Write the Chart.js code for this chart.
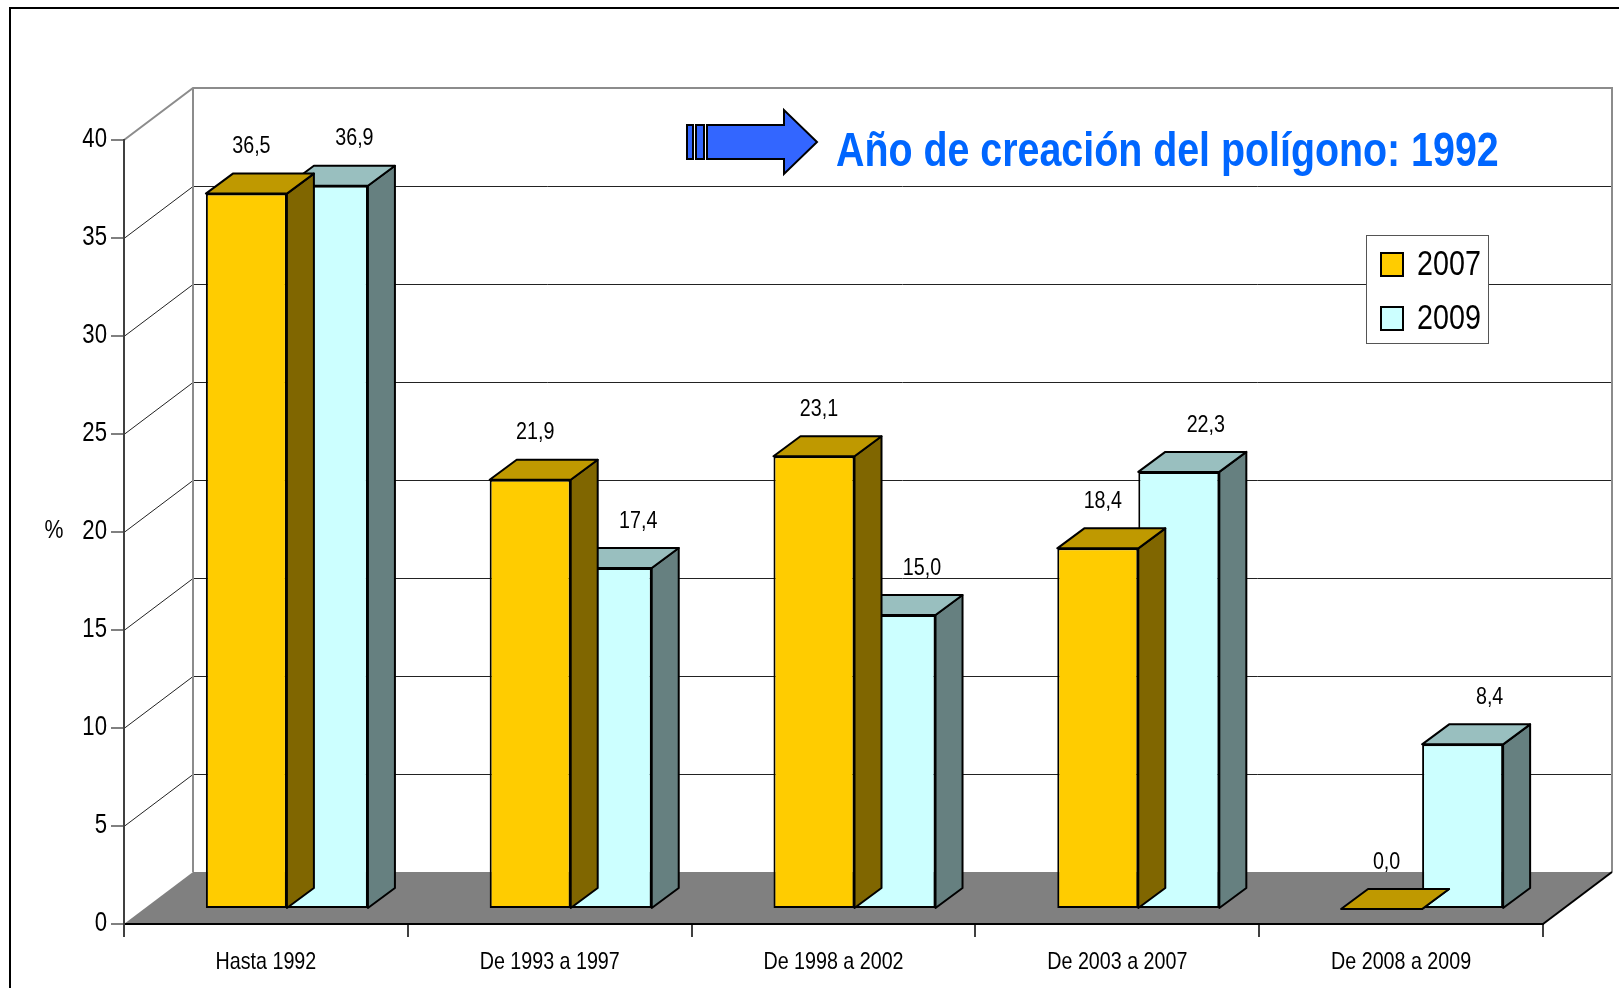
<!DOCTYPE html>
<html>
<head>
<meta charset="utf-8">
<script src="https://cdn.jsdelivr.net/npm/chart.js@4.4.1/dist/chart.umd.min.js"></script>
<style>
  html, body { margin: 0; padding: 0; background: #fff; }
  #wrap { width: 1619px; height: 988px; position: relative; }
</style>
</head>
<body>
<div id="wrap"><canvas id="chart"></canvas></div>
<script>
// datos
const categories = ['Hasta 1992', 'De 1993 a 1997', 'De 1998 a 2002', 'De 2003 a 2007', 'De 2008 a 2009'];
const values2007 = [36.5, 21.9, 23.1, 18.4, 0.0];
const values2009 = [36.9, 17.4, 15.0, 22.3, 8.4];
const seriesNames = ['2007', '2009'];
const yMin = 0, yMax = 40, yStep = 5;
const titleText = 'Año de creación del polígono: 1992';

// Arial Narrow no está: Liberation Sans comprimida horizontalmente
const FONT = '"Liberation Sans", Arial, sans-serif';
const NARROW_X = 0.82;
const fill = ['#ffcc00', '#ccffff'];
const topFill = ['#bf9900', '#99bfbf'];
const sideFill = ['#806600', '#668080'];

// geometría 3D (pseudo-perspectiva de Excel)
const WALL = { dx: 69, dy: 52 };   // profundidad del suelo / pared del fondo
const SHIFT = { dx: 21, dy: 15 };  // plano frontal de las barras
const DEPTH = { dx: 27, dy: 20 };  // grosor de cada barra
const labelDx = [5, 27];

const nativeFillText = CanvasRenderingContext2D.prototype.fillText;
function narrowText(ctx, text, x, y) {
  ctx.save();
  ctx.translate(x, y);
  ctx.scale(NARROW_X, 1);
  nativeFillText.call(ctx, text, 0, 0);
  ctx.restore();
}

// etiquetas de los ejes también estrechas
const origDrawLabels = Chart.Scale.prototype.drawLabels;
Chart.Scale.prototype.drawLabels = function (area) {
  const ctx = this.ctx;
  ctx.fillText = function (t, x, y) { narrowText(this, t, x, y); };
  try { origDrawLabels.call(this, area); } finally { delete ctx.fillText; }
};

function poly(ctx, pts, fillStyle, stroke, lw) {
  ctx.beginPath();
  ctx.moveTo(pts[0][0], pts[0][1]);
  for (let i = 1; i < pts.length; i++) ctx.lineTo(pts[i][0], pts[i][1]);
  ctx.closePath();
  if (fillStyle) { ctx.fillStyle = fillStyle; ctx.fill(); }
  if (stroke) { ctx.strokeStyle = stroke; ctx.lineWidth = lw || 1; ctx.stroke(); }
}

const frame3d = {
  id: 'frame3d',
  beforeDraw(chart) {
    const ctx = chart.ctx;
    const { left, right, top, bottom } = chart.chartArea;
    const y = chart.scales.y;
    ctx.save();
    // marco exterior
    ctx.strokeStyle = '#000';
    ctx.lineWidth = 2;
    ctx.strokeRect(10, 8, 1800, 1200);

    // suelo
    poly(ctx, [[left, bottom], [left + WALL.dx, bottom - WALL.dy],
      [right + WALL.dx, bottom - WALL.dy], [right, bottom]], '#808080');

    // líneas de división: pared lateral + fondo
    ctx.lineWidth = 1;
    ctx.strokeStyle = '#222';
    for (let v = yMin + yStep; v < yMax; v += yStep) {
      const yf = Math.round(y.getPixelForValue(v)) + 0.5;
      ctx.beginPath();
      ctx.moveTo(left, yf);
      ctx.lineTo(left + WALL.dx, yf - WALL.dy);
      ctx.lineTo(right + WALL.dx, yf - WALL.dy);
      ctx.stroke();
    }

    // bordes de las paredes
    ctx.strokeStyle = '#8c8c8c';
    ctx.lineWidth = 2;
    ctx.beginPath();
    ctx.moveTo(left, top);
    ctx.lineTo(left + WALL.dx, top - WALL.dy);
    ctx.lineTo(right + WALL.dx, top - WALL.dy);
    ctx.lineTo(right + WALL.dx, bottom - WALL.dy);
    ctx.moveTo(left + WALL.dx, top - WALL.dy);
    ctx.lineTo(left + WALL.dx, bottom - WALL.dy);
    ctx.stroke();

    // borde derecho del suelo
    ctx.strokeStyle = '#000';
    ctx.beginPath();
    ctx.moveTo(right, bottom);
    ctx.lineTo(right + WALL.dx, bottom - WALL.dy);
    ctx.stroke();
    ctx.restore();
  },
  beforeDatasetsDraw(chart) {
    chart.ctx.save();
    chart.ctx.translate(SHIFT.dx, -SHIFT.dy);
  },
  beforeDatasetDraw(chart, args) {
    const ctx = chart.ctx;
    const di = args.index;
    ctx.save();
    ctx.lineJoin = 'round';
    args.meta.data.forEach(el => {
      const p = el.getProps(['x', 'y', 'base', 'width'], true);
      const L = p.x - p.width / 2, R = p.x + p.width / 2;
      // cara lateral
      poly(ctx, [[R, p.y], [R + DEPTH.dx, p.y - DEPTH.dy],
        [R + DEPTH.dx, p.base - DEPTH.dy], [R, p.base]], sideFill[di], '#000', 2);
      // cara superior
      poly(ctx, [[L, p.y], [L + DEPTH.dx, p.y - DEPTH.dy],
        [R + DEPTH.dx, p.y - DEPTH.dy], [R, p.y]], topFill[di], '#000', 2);
    });
    ctx.restore();
  },
  afterDatasetsDraw(chart) {
    const ctx = chart.ctx;
    ctx.restore();
    ctx.save();

    // etiquetas de datos
    ctx.fillStyle = '#000';
    ctx.font = '24px ' + FONT;
    ctx.textAlign = 'center';
    ctx.textBaseline = 'middle';
    chart.data.datasets.forEach((ds, di) => {
      chart.getDatasetMeta(di).data.forEach((el, i) => {
        const txt = ds.data[i].toFixed(1).replace('.', ',');
        narrowText(ctx, txt, el.x + SHIFT.dx + labelDx[di], el.y - SHIFT.dy - 47);
      });
    });

    // símbolo del eje
    ctx.font = '26px ' + FONT;
    narrowText(ctx, '%', 54, 531);

    // flecha
    ctx.lineJoin = 'miter';
    poly(ctx, [[687, 125], [693, 125], [693, 159], [687, 159]], '#3366ff', '#000', 2);
    poly(ctx, [[696, 125], [704, 125], [704, 159], [696, 159]], '#3366ff', '#000', 2);
    poly(ctx, [[707, 125], [784, 125], [784, 110], [817, 142], [784, 174], [784, 159], [707, 159]],
      '#3366ff', '#000', 2);

    // título
    ctx.fillStyle = '#0066ff';
    ctx.font = 'bold 48px ' + FONT;
    ctx.textAlign = 'left';
    ctx.textBaseline = 'alphabetic';
    narrowText(ctx, titleText, 836, 166);

    // leyenda
    ctx.fillStyle = '#fff';
    ctx.fillRect(1366, 235, 122, 108);
    ctx.strokeStyle = '#555';
    ctx.lineWidth = 1;
    ctx.strokeRect(1366.5, 235.5, 122, 108);
    chart.data.datasets.forEach((ds, di) => {
      const yy = 253 + di * 54;
      ctx.fillStyle = ds.backgroundColor;
      ctx.fillRect(1381, yy, 22, 23);
      ctx.strokeStyle = '#000';
      ctx.lineWidth = 2;
      ctx.strokeRect(1381, yy, 22, 23);
      ctx.fillStyle = '#000';
      ctx.font = '35px ' + FONT;
      ctx.textBaseline = 'middle';
      narrowText(ctx, ds.label, 1417, yy + 12);
    });
    ctx.restore();
  }
};

new Chart(document.getElementById('chart'), {
  type: 'bar',
  data: {
    labels: categories,
    datasets: [
      { label: seriesNames[0], data: values2007, backgroundColor: fill[0] },
      { label: seriesNames[1], data: values2009, backgroundColor: fill[1] }
    ]
  },
  options: {
    responsive: true,
    maintainAspectRatio: false,
    devicePixelRatio: 1,
    animation: false,
    layout: { padding: { top: 140, right: 76, bottom: 0, left: 0 } },
    datasets: {
      bar: {
        categoryPercentage: 0.571,
        barPercentage: 1,
        borderColor: '#000',
        borderWidth: 2,
        borderSkipped: false,
        clip: false
      }
    },
    plugins: {
      legend: { display: false },
      tooltip: { enabled: false }
    },
    scales: {
      x: {
        afterFit: s => { s.height = 64; },
        grid: { offset: true, drawOnChartArea: false, tickLength: 13, color: '#404040', lineWidth: 2 },
        border: { color: '#000', width: 2 },
        ticks: { color: '#000', font: { family: FONT, size: 24 }, padding: 11, maxRotation: 0 }
      },
      y: {
        min: yMin,
        max: yMax,
        afterFit: s => { s.width = 124; },
        grid: { drawOnChartArea: false, tickLength: 13, color: '#808080', lineWidth: 2 },
        border: { color: '#404040', width: 2 },
        ticks: { stepSize: yStep, color: '#000', font: { family: FONT, size: 27 }, padding: 4 }
      }
    }
  },
  plugins: [frame3d]
});
</script>
</body>
</html>
